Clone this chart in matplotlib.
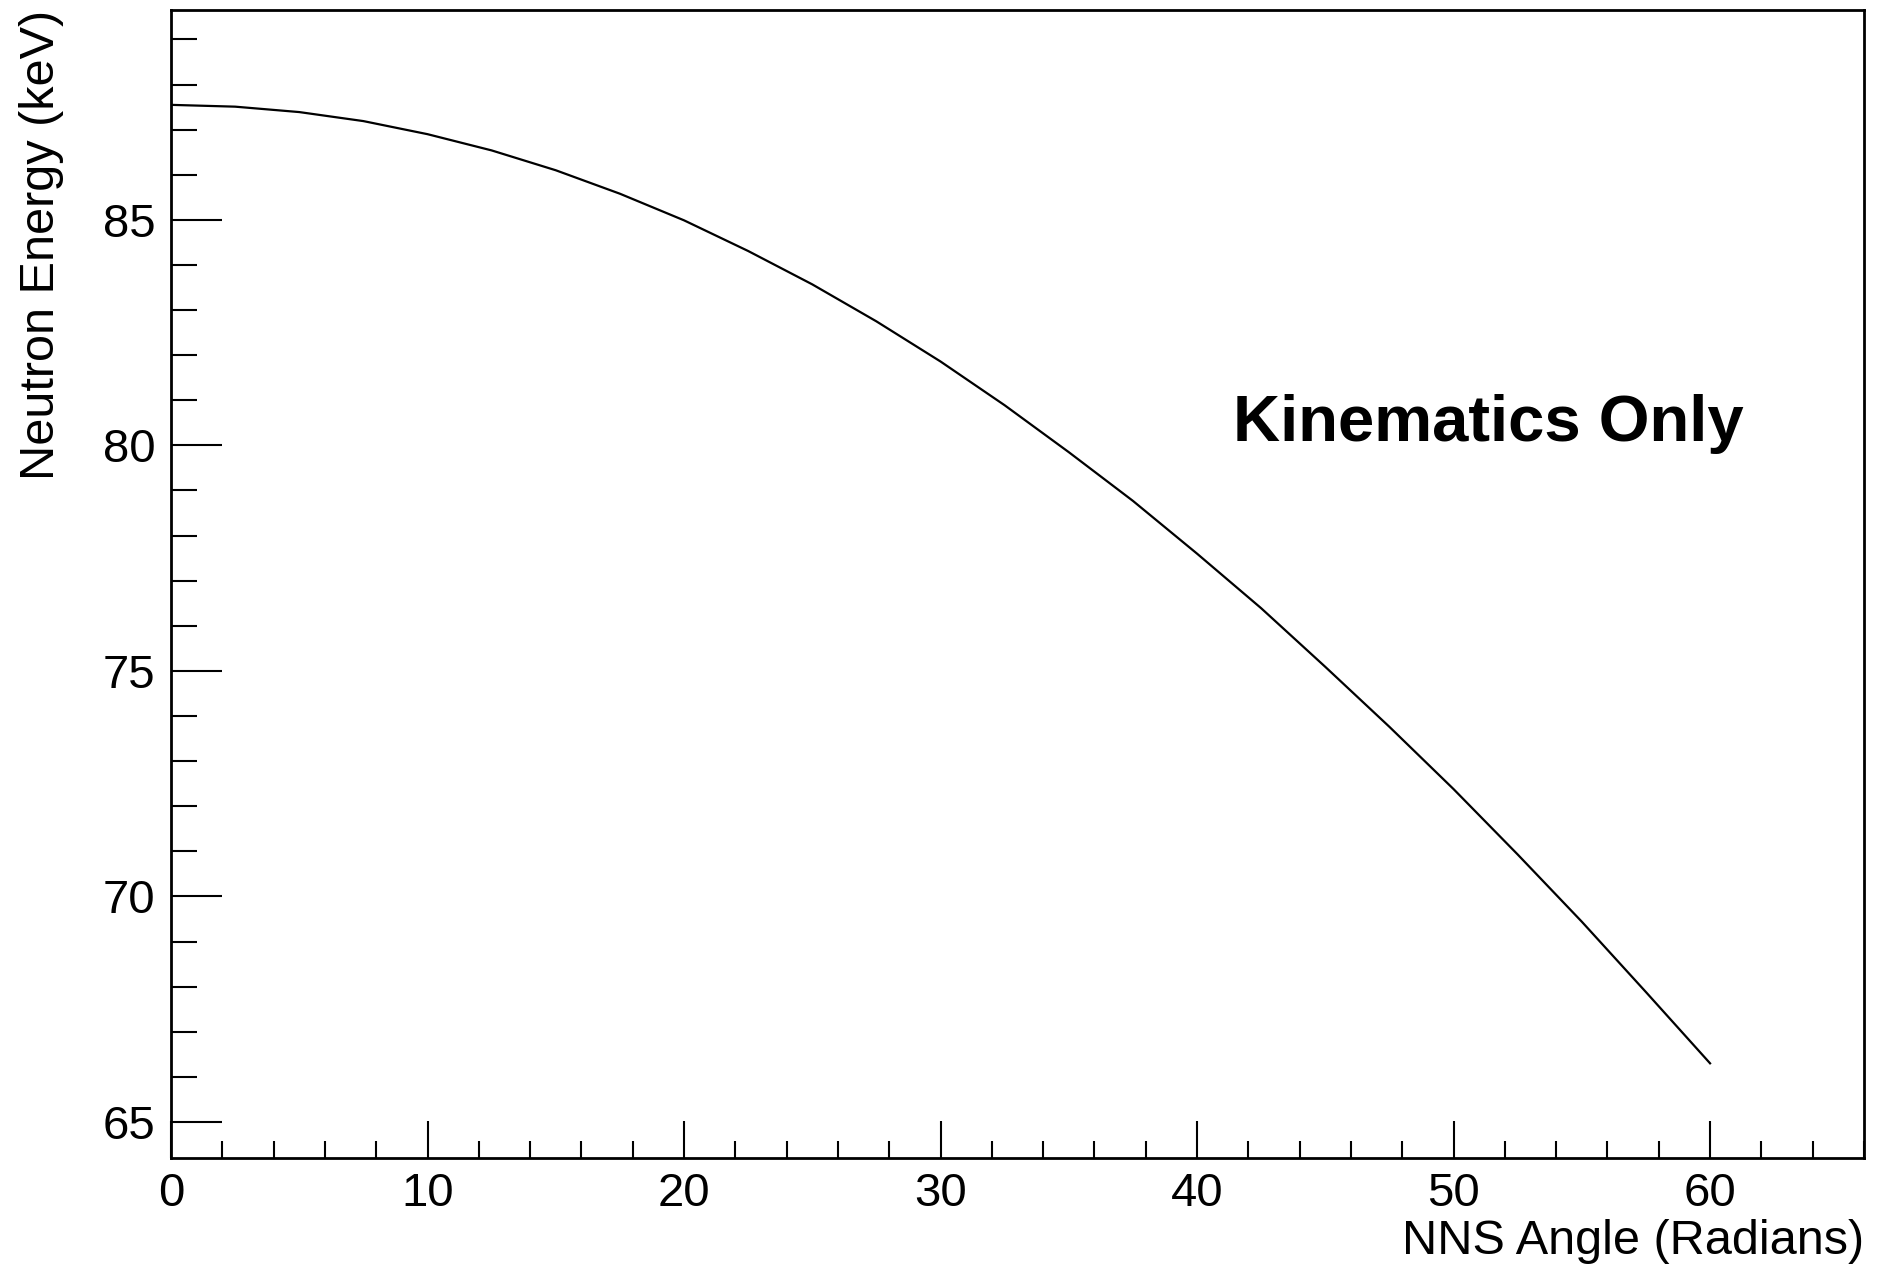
import matplotlib
matplotlib.use('Agg')
import matplotlib.pyplot as plt
from matplotlib.ticker import MultipleLocator

plt.rcParams['font.family'] = ['Liberation Sans', 'DejaVu Sans']

# 그래프에서 읽은 값 (각도, 중성자 에너지)
angle = [0, 2.5, 5, 7.5, 10, 12.5, 15, 17.5, 20, 22.5, 25, 27.5, 30,
         32.5, 35, 37.5, 40, 42.5, 45, 47.5, 50, 52.5, 55, 57.5, 60]
energy = [87.55, 87.51, 87.39, 87.19, 86.90, 86.54, 86.10, 85.58, 84.99,
          84.31, 83.57, 82.75, 81.86, 80.89, 79.85, 78.77, 77.60, 76.39,
          75.09, 73.76, 72.38, 70.93, 69.44, 67.88, 66.30]

x_label = 'NNS Angle (Radians)'
y_label = 'Neutron Energy (keV)'
note = 'Kinematics Only'

fig = plt.figure(figsize=(18.79, 12.67), dpi=100)
ax = fig.add_axes([0.091, 0.086, 0.901, 0.906])

ax.plot(angle, energy, color='black', lw=1.6)

ax.set_xlim(0, 66)
ax.set_ylim(64.2, 89.65)

ax.xaxis.set_major_locator(MultipleLocator(10))
ax.xaxis.set_minor_locator(MultipleLocator(2))
ax.yaxis.set_major_locator(MultipleLocator(5))
ax.yaxis.set_minor_locator(MultipleLocator(1))

ax.tick_params(axis='x', which='major', direction='in', length=27, width=1.5,
               labelsize=34, pad=10, top=False)
ax.tick_params(axis='x', which='minor', direction='in', length=12, width=1.5, top=False)
ax.tick_params(axis='y', which='major', direction='in', length=37, width=1.5,
               labelsize=34, pad=11, right=False)
ax.tick_params(axis='y', which='minor', direction='in', length=19, width=1.5, right=False)

for s in ax.spines.values():
    s.set_linewidth(2)

ax.set_xlabel(x_label, fontsize=35, loc='right', labelpad=2)
ax.set_ylabel(y_label, fontsize=35, loc='top', labelpad=28)

ax.text(41.4, 80.1, note, fontsize=47, fontweight='bold', ha='left', va='baseline')

fig.savefig('out.png', dpi=100)
